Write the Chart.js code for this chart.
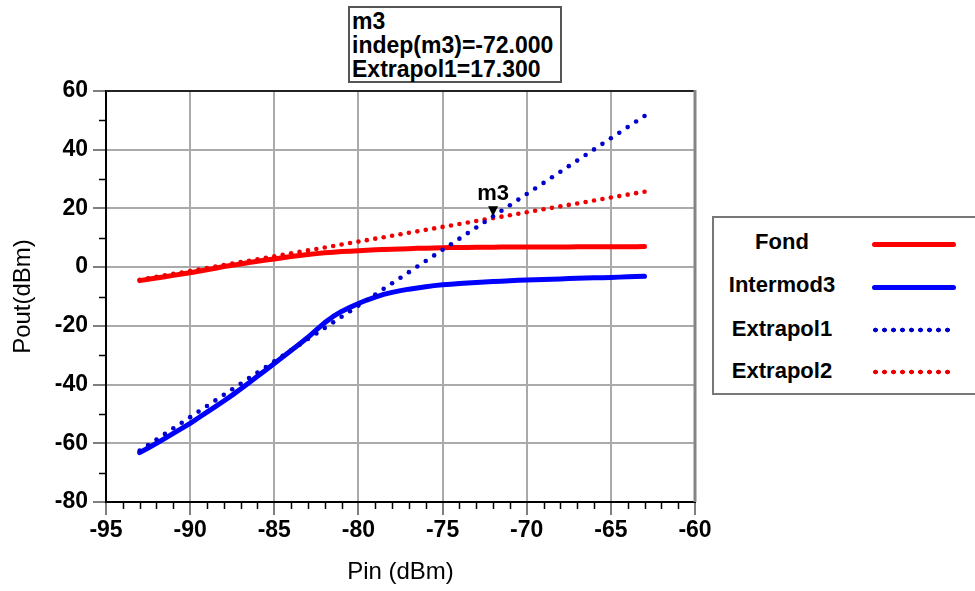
<!DOCTYPE html>
<html>
<head>
<meta charset="utf-8">
<script src="https://cdn.jsdelivr.net/npm/chart.js@4.4.1/dist/chart.umd.min.js"></script>
<style>
  html, body { margin: 0; padding: 0; background: #fff; }
  #wrap { position: relative; width: 975px; height: 591px; overflow: hidden; font-family: "Liberation Sans", Arial, sans-serif; }
  #chart { position: absolute; left: 0; top: 0; }
  #mbox { position: absolute; left: 348px; top: 6px; width: 214px; height: 77px; box-sizing: border-box;
          border: 2px solid #555; background: #fff; padding: 1px 0 0 2px; font-weight: bold; font-size: 23px; line-height: 24px; color: #000; white-space: nowrap; }
  #legend { position: absolute; left: 712px; top: 216px; width: 280px; height: 179px; box-sizing: border-box;
            border: 2px solid #777; background: #fff; }
  .lg-text { position: absolute; width: 136px; left: 0; text-align: center; font-weight: bold; font-size: 22px; line-height: 26px; color: #000; }
  .lg-solid { position: absolute; height: 5px; border-radius: 3px; }
  .lg-dots { position: absolute; height: 6px; }
</style>
</head>
<body>
<div id="wrap">
  <canvas id="chart" width="975" height="591"></canvas>
  <div id="mbox"></div>
  <div id="legend"></div>
</div>
<script>
// ---------- data ----------
const pinDbm = [-93,-92.5,-92,-91.5,-91,-90.5,-90,-89.5,-89,-88.5,-88,-87.5,-87,-86.5,-86,-85.5,-85,-84.5,-84,-83.5,
  -83,-82.5,-82,-81.5,-81,-80.5,-80,-79.5,-79,-78.5,-78,-77.5,-77,-76.5,-76,-75.5,-75,-74.5,-74,-73.5,
  -73,-72.5,-72,-71.5,-71,-70.5,-70,-69.5,-69,-68.5,-68,-67.5,-67,-66.5,-66,-65.5,-65,-64.5,-64,-63.5,-63];

const fondDbm = [-4.6,-4.15,-3.7,-3.25,-2.8,-2.35,-1.9,-1.4,-0.9,-0.35,
  0.2,0.65,1.1,1.55,2.0,2.4,2.8,3.2,3.6,3.95,
  4.3,4.6,4.9,5.1,5.3,5.45,5.6,5.75,5.9,6.0,
  6.1,6.2,6.3,6.4,6.45,6.55,6.6,6.65,6.7,6.72,
  6.75,6.78,6.8,6.82,6.84,6.85,6.86,6.87,6.88,6.89,
  6.9,6.9,6.91,6.92,6.93,6.94,6.95,6.96,6.97,6.98,7.0];

const intermod3Dbm = [-63.2,-61.6,-60.0,-58.3,-56.6,-54.9,-53.2,-51.3,-49.4,-47.5,
  -45.6,-43.6,-41.5,-39.4,-37.2,-35.0,-32.8,-30.6,-28.4,-26.2,
  -23.9,-21.4,-18.9,-16.8,-15.1,-13.7,-12.4,-11.2,-10.2,-9.3,
  -8.6,-8.0,-7.5,-7.1,-6.7,-6.3,-6.0,-5.8,-5.6,-5.4,
  -5.2,-5.05,-4.9,-4.8,-4.65,-4.5,-4.4,-4.3,-4.2,-4.1,
  -4.0,-3.9,-3.8,-3.7,-3.65,-3.6,-3.5,-3.4,-3.3,-3.2,-3.1];

const extrapol1Dbm = [-62.5,-60.6,-58.7,-56.8,-54.9,-53.0,-51.1,-49.2,-47.3,-45.4,
  -43.5,-41.6,-39.7,-37.8,-35.9,-34.0,-32.1,-30.2,-28.3,-26.4,
  -24.5,-22.6,-20.7,-18.8,-16.9,-15.0,-13.1,-11.2,-9.3,-7.4,
  -5.5,-3.6,-1.7,0.2,2.1,4.0,5.9,7.8,9.7,11.6,
  13.5,15.4,17.3,19.2,21.1,23.0,24.9,26.8,28.7,30.6,
  32.5,34.4,36.3,38.2,40.1,42.0,43.9,45.8,47.7,49.6,51.5];

const extrapol2Dbm = [-4.3,-3.8,-3.3,-2.8,-2.3,-1.8,-1.3,-0.8,-0.3,0.2,
  0.7,1.2,1.7,2.2,2.7,3.2,3.7,4.2,4.7,5.2,
  5.7,6.2,6.7,7.2,7.7,8.2,8.7,9.2,9.7,10.2,
  10.7,11.2,11.7,12.2,12.7,13.2,13.7,14.2,14.7,15.2,
  15.7,16.2,16.7,17.2,17.7,18.2,18.7,19.2,19.7,20.2,
  20.7,21.2,21.7,22.2,22.7,23.2,23.7,24.2,24.7,25.2,25.7];

const seriesNames = ["Fond", "Intermod3", "Extrapol1", "Extrapol2"];
const xTickValues = [-95,-90,-85,-80,-75,-70,-65,-60];
const yTickValues = [-80,-60,-40,-20,0,20,40,60];
const markerName = "m3";
const markerPin = -72.000;
const markerValue = 17.300;
const markerLines = ["m3", "indep(m3)=-72.000", "Extrapol1=17.300"];

// ---------- styles ----------
const RED = "#ff0000", BLUE = "#0000ff", DRED = "#ee0000", DBLUE = "#0000cc";
const seriesStyles = [
  { color: RED, dotted: false },
  { color: BLUE, dotted: false },
  { color: DBLUE, dotted: true },
  { color: DRED, dotted: true }
];
const seriesValues = [fondDbm, intermod3Dbm, extrapol1Dbm, extrapol2Dbm];

const datasets = seriesValues.map((vals, i) => {
  const st = seriesStyles[i];
  const data = pinDbm.map((p, k) => ({ x: p, y: vals[k] }));
  if (st.dotted) {
    return { label: seriesNames[i], data, showLine: false, pointRadius: 2.3, pointBorderWidth: 0,
             pointBackgroundColor: st.color, borderColor: st.color, order: 0 };
  }
  return { label: seriesNames[i], data, showLine: true, pointRadius: 0, borderWidth: 5,
           borderColor: st.color, backgroundColor: st.color, borderCapStyle: 'round', borderJoinStyle: 'round',
           tension: 0, order: 1 };
});

const FONT = '"Liberation Sans", Arial, sans-serif';

const decorPlugin = {
  id: 'decor',
  afterDatasetsDraw(chart) {
    const { ctx, scales: { x, y } } = chart;
    const px = x.getPixelForValue(markerPin), py = y.getPixelForValue(markerValue);
    ctx.save();
    ctx.fillStyle = '#000';
    ctx.beginPath();
    ctx.moveTo(px, py);
    ctx.lineTo(px - 5, py - 10);
    ctx.lineTo(px + 5, py - 10);
    ctx.closePath();
    ctx.fill();
    ctx.font = 'bold 22px ' + FONT;
    ctx.textAlign = 'center';
    ctx.textBaseline = 'alphabetic';
    ctx.fillText(markerName, px, py - 16);
    ctx.restore();
  },
  afterDraw(chart) {
    const { ctx, chartArea: a, scales: { x, y } } = chart;
    ctx.save();
    // minor ticks
    ctx.strokeStyle = '#000';
    ctx.lineWidth = 1.5;
    ctx.beginPath();
    for (let v = x.min; v <= x.max; v += 1) {
      if (v % 5 === 0) continue;
      const p = Math.round(x.getPixelForValue(v)) + 0.5;
      ctx.moveTo(p, a.bottom);
      ctx.lineTo(p, a.bottom + 7);
    }
    for (let v = y.min; v <= y.max; v += 10) {
      if (v % 20 === 0) continue;
      const p = Math.round(y.getPixelForValue(v)) + 0.5;
      ctx.moveTo(a.left - 7, p);
      ctx.lineTo(a.left, p);
    }
    ctx.stroke();
    // frame top / right
    ctx.strokeStyle = '#222';
    ctx.lineWidth = 2;
    ctx.beginPath();
    ctx.moveTo(a.left, a.top);
    ctx.lineTo(a.right, a.top);
    ctx.stroke();
    ctx.strokeStyle = '#858585';
    ctx.lineWidth = 3;
    ctx.beginPath();
    ctx.moveTo(a.right, a.top - 1);
    ctx.lineTo(a.right, a.bottom);
    ctx.stroke();
    ctx.restore();
  }
};

new Chart(document.getElementById('chart'), {
  type: 'scatter',
  data: { datasets },
  options: {
    responsive: false,
    devicePixelRatio: 1,
    animation: false,
    events: [],
    layout: { padding: { left: 0, top: 91, right: 280, bottom: 0 } },
    plugins: { legend: { display: false }, tooltip: { enabled: false } },
    scales: {
      x: {
        type: 'linear', position: 'bottom', min: -95, max: -60,
        afterBuildTicks: (s) => { s.ticks = xTickValues.map(v => ({ value: v })); },
        afterFit: (s) => { s.height = 89; },
        ticks: { color: '#000', font: { family: FONT, size: 23, weight: 'bold' }, padding: 2,
                 callback: (v) => String(v) },
        grid: { color: '#aaaaaa', lineWidth: 2, tickLength: 13, tickColor: '#555', tickWidth: 1.5 },
        border: { color: '#000', width: 2 },
        title: { display: true, text: 'Pin (dBm)', color: '#000', font: { family: FONT, size: 24, weight: 'normal' },
                 padding: { top: 0, bottom: 4 } }
      },
      y: {
        type: 'linear', position: 'left', min: -80, max: 60,
        afterBuildTicks: (s) => { s.ticks = yTickValues.map(v => ({ value: v })); },
        afterFit: (s) => { s.width = 106; },
        ticks: { color: '#000', font: { family: FONT, size: 23, weight: 'bold' }, padding: 5,
                 callback: (v) => String(v) },
        grid: { color: '#aaaaaa', lineWidth: 2, tickLength: 13, tickColor: '#555', tickWidth: 1.5 },
        border: { color: '#000', width: 2 },
        title: { display: true, text: 'Pout(dBm)', color: '#000', font: { family: FONT, size: 24, weight: 'normal' },
                 padding: { top: 9, bottom: 0 } }
      }
    }
  },
  plugins: [decorPlugin]
});

// ---------- marker readout box ----------
document.getElementById('mbox').innerHTML = markerLines.map(t => '<div>' + t + '</div>').join('');

// ---------- legend ----------
const legend = document.getElementById('legend');
const legendRowY = [24, 67, 111, 153];   // row centres relative to the legend box
seriesNames.forEach((name, i) => {
  const st = seriesStyles[i];
  const t = document.createElement('div');
  t.className = 'lg-text';
  t.style.top = (legendRowY[i] - 13) + 'px';
  t.textContent = name;
  legend.appendChild(t);
  const s = document.createElement('div');
  if (st.dotted) {
    s.className = 'lg-dots';
    s.style.left = '157px';
    s.style.width = '82px';
    s.style.top = (legendRowY[i] - 2) + 'px';
    s.style.backgroundImage = 'radial-gradient(circle, ' + st.color + ' 2.1px, transparent 2.7px)';
    s.style.backgroundSize = '9px 6px';
  } else {
    s.className = 'lg-solid';
    s.style.left = '158px';
    s.style.width = '84px';
    s.style.top = (legendRowY[i]) + 'px';
    s.style.background = st.color;
  }
  legend.appendChild(s);
});
</script>
</body>
</html>
